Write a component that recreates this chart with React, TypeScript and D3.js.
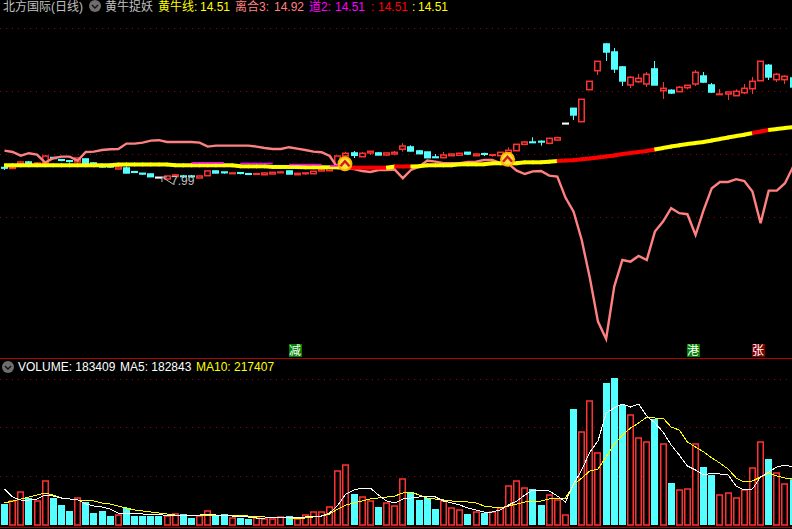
import { scaleBand, scaleLinear, line as d3line } from 'd3';

// daily candles, price in yuan
const opens = [
  9.31, 9.19, 9.75, 10.0, 9.63, 9.88, 10.56, 10.29, 10.16, 10.0, 10.38, 9.88, 9.63, 9.45, 9.13, 9.25, 8.79, 8.59, 8.5, 8.09,
  7.88, 8.19, 8.25, 8.25, 8.0, 8.29, 8.88, 8.75, 8.54, 8.66, 8.54, 8.46, 8.41, 8.5, 8.66, 8.88, 8.41, 8.54, 8.54, 8.88,
  8.91, 9.63, 10.75, 11.13, 10.66, 11.13, 11.13, 10.88, 11.0, 11.59, 11.88, 11.38, 11.25, 10.63, 10.54, 10.79, 10.84, 11.21, 10.79, 11.04,
  10.84, 10.79, 11.16, 11.41, 12.21, 12.5, 12.58, 12.34, 12.75, 14.84, 16.71, 15.04, 19.04, 21.41, 24.75, 23.75, 21.88, 19.63, 20.04, 19.75,
  21.63, 18.91, 18.96, 18.79, 19.29, 19.75, 20.75, 19.63, 18.43, 18.5, 18.29, 18.66, 19.16, 20.16, 22.09, 20.29, 20.29, 20.5,
];
const closes = [
  9.25, 9.31, 10.0, 9.75, 9.88, 10.75, 10.44, 10.21, 10.09, 10.5, 9.75, 9.75, 9.38, 9.38, 9.38, 8.63, 8.71, 8.5, 8.16, 8.09,
  8.25, 8.38, 8.18, 8.18, 8.25, 8.88, 8.63, 8.66, 8.63, 8.59, 8.46, 8.54, 8.63, 8.71, 8.75, 8.5, 8.59, 8.63, 8.84, 9.09,
  9.21, 10.75, 11.09, 10.84, 11.09, 11.34, 10.88, 11.13, 11.21, 12.0, 11.38, 11.04, 10.54, 10.55, 10.88, 11.0, 11.09, 11.0, 11.0, 10.96,
  10.91, 11.21, 11.46, 12.21, 12.5, 12.43, 12.5, 12.96, 13.04, 14.84, 15.88, 17.84, 20.09, 22.59, 23.75, 21.63, 20.13, 20.59, 20.46, 20.96,
  19.63, 19.21, 18.63, 19.34, 19.59, 21.21, 20.0, 18.75, 18.5, 18.75, 18.84, 19.21, 20.09, 22.59, 20.63, 20.96, 20.71, 19.38,
];
const highs = [
  9.41, 9.38, 10.13, 10.13, 9.94, 10.88, 10.63, 10.38, 10.25, 10.55, 10.4, 9.95, 9.7, 9.56, 9.4, 9.41, 8.85, 8.6, 8.56, 8.12,
  8.3, 8.42, 8.38, 8.38, 8.28, 8.92, 8.92, 8.78, 8.65, 8.75, 8.63, 8.63, 8.65, 8.73, 8.77, 8.9, 8.61, 8.65, 8.86, 9.11,
  9.23, 10.77, 11.3, 11.38, 11.25, 11.36, 11.25, 11.15, 11.38, 12.34, 12.09, 11.5, 11.27, 11.0, 11.25, 11.02, 11.11, 11.23, 11.02, 11.16,
  10.93, 11.23, 11.84, 12.23, 12.63, 13.09, 12.71, 12.98, 13.16, 14.86, 16.73, 17.86, 20.11, 22.61, 24.88, 24.25, 22.0, 20.75, 21.0, 21.25,
  22.63, 20.0, 19.09, 19.5, 19.61, 21.5, 21.25, 19.88, 19.13, 18.77, 19.09, 19.75, 20.63, 22.61, 22.25, 21.13, 20.84, 20.55,
];
const lows = [
  9.0, 9.13, 9.7, 9.75, 9.6, 9.75, 10.38, 10.09, 9.91, 9.95, 9.7, 9.7, 9.3, 9.25, 9.1, 8.56, 8.65, 8.38, 8.14, 8.0,
  7.85, 8.15, 8.0, 8.04, 7.98, 8.25, 8.6, 8.54, 8.52, 8.46, 8.38, 8.44, 8.4, 8.48, 8.64, 8.48, 8.39, 8.41, 8.52, 8.86,
  8.89, 9.6, 10.73, 10.5, 10.64, 10.88, 10.86, 10.75, 10.84, 11.29, 11.31, 11.0, 10.5, 10.53, 10.52, 10.77, 10.82, 10.88, 10.77, 10.75,
  10.66, 10.77, 11.14, 11.39, 12.19, 12.41, 12.04, 12.21, 12.63, 14.82, 15.25, 15.02, 19.02, 20.88, 22.63, 21.13, 19.5, 19.25, 19.88, 19.38,
  19.6, 17.88, 18.5, 18.77, 19.09, 19.5, 19.88, 18.63, 18.41, 17.75, 18.27, 18.5, 18.5, 20.14, 20.25, 20.0, 19.75, 19.3,
];

// 黄牛线
const bullLine = [
  9.59, 9.59, 9.59, 9.59, 9.59, 9.59, 9.59, 9.59, 9.59, 9.59, 9.59, 9.59, 9.59, 9.59, 9.69, 9.69, 9.69, 9.69, 9.69, 9.69,
  9.69, 9.59, 9.59, 9.59, 9.59, 9.59, 9.59, 9.59, 9.59, 9.46, 9.46, 9.46, 9.46, 9.38, 9.38, 9.38, 9.38, 9.34, 9.34, 9.34,
  9.34, 9.34, 9.29, 9.29, 9.29, 9.29, 9.29, 9.29, 9.44, 9.44, 9.44, 9.46, 9.59, 9.59, 9.59, 9.59, 9.71, 9.71, 9.71, 9.71,
  9.84, 9.84, 9.84, 9.84, 9.96, 9.96, 9.96, 10.04, 10.13, 10.19, 10.21, 10.34, 10.44, 10.56, 10.69, 10.81, 11.0, 11.13, 11.25, 11.38,
  11.56, 11.75, 11.94, 12.09, 12.25, 12.38, 12.5, 12.69, 12.88, 13.06, 13.25, 13.41, 13.63, 13.81, 14.0, 14.13, 14.25, 14.38,
];
const bullRedRanges = [[42, 47], [48, 50], [68, 80], [92, 94]];
const dao2Ranges = [[23, 27, 9.84], [29, 33, 9.75], [35, 39, 9.63], [40, 42, 9.46]];

// 离合3
const liheLine = [
  94.7, 94, 92.2, 93.4, 92.7, 88.7, 90.9, 91.7, 91.7, 89.7, 94, 94.2, 95, 95.4, 95.5, 98.2, 98.2, 98.7, 99.7, 99.9,
  99, 99, 99, 99, 98.7, 96.7, 97.2, 97.2, 97.2, 97.2, 97.2, 96.7, 96, 95.5, 95.5, 96.4, 95.7, 95, 94.2, 93.9,
  92, 86, 86, 85.5, 84.5, 84, 85, 85, 85.2, 80.9, 85, 86.7, 89.7, 89.2, 88.4, 88.4, 88.4, 89, 89.2, 90,
  90, 88.4, 88, 84.7, 83, 84.3, 84.5, 82.2, 81.7, 71.2, 64.2, 50, 31, 9.2, 0.5, 26.7, 40, 39.2, 42, 40,
  54.2, 59.2, 65.9, 63.4, 62.9, 52.5, 65, 75.9, 79, 79, 80.4, 79.5, 74.2, 58.4, 74.7, 74.7, 78.4, 86.7,
];
const liheTicks = [156, 124.5, 93, 61.5];

// volume, thousands
const volumes = [
  84, 96, 132, 108, 96, 176, 108, 80, 56, 108, 92, 48, 56, 36, 40, 68, 36, 36, 36, 36,
  36, 44, 44, 28, 36, 56, 40, 44, 28, 28, 24, 28, 24, 24, 32, 36, 24, 40, 52, 52,
  72, 216, 240, 124, 112, 96, 72, 88, 76, 184, 128, 100, 108, 64, 96, 68, 60, 44, 52, 48,
  52, 68, 156, 176, 148, 144, 80, 120, 100, 40, 464, 372, 496, 288, 568, 588, 480, 440, 348, 332,
  424, 324, 168, 140, 144, 324, 232, 200, 120, 128, 108, 140, 228, 332, 264, 208, 164, 183.4,
];
const ma5 = [
  144, 112, 100, 100, 104, 120, 116, 108, 104, 100, 84, 76, 72, 64, 48, 48, 48, 44, 44, 44,
  36, 40, 40, 40, 40, 44, 40, 40, 36, 36, 32, 28, 28, 32, 32, 32, 32, 32, 36, 36,
  48, 80, 124, 140, 148, 148, 120, 96, 88, 104, 108, 112, 116, 112, 96, 88, 80, 68, 60, 52,
  52, 60, 80, 96, 120, 140, 140, 136, 116, 92, 164, 220, 292, 336, 448, 468, 484, 472, 484, 436,
  408, 372, 320, 280, 236, 220, 200, 208, 204, 200, 156, 140, 144, 192, 212, 232, 240, 232,
];
const ma10 = [
  88, 96, 104, 112, 120, 128, 120, 108, 104, 100, 100, 96, 88, 84, 76, 68, 60, 56, 52, 48,
  44, 40, 40, 40, 40, 40, 40, 40, 40, 40, 36, 36, 32, 32, 32, 28, 28, 28, 32, 36,
  44, 64, 80, 88, 96, 104, 108, 112, 116, 128, 132, 120, 108, 104, 100, 96, 96, 92, 88, 76,
  72, 68, 76, 84, 92, 96, 96, 104, 108, 108, 160, 188, 216, 224, 272, 324, 360, 388, 408, 432,
  428, 428, 392, 380, 332, 312, 292, 268, 248, 224, 188, 172, 176, 192, 208, 196, 188, 184,
];
const volumeTicks = [196, 392, 584];

const badgeDays = [42, 62];
const lowDay = 19;
const lowLabel = '7.99';
const tags = [
  { day: 35, text: '减', fill: '#008000' },
  { day: 84, text: '港', fill: '#008000' },
  { day: 92, text: '张', fill: '#800000' },
];

const titleItems = [
  { x: 3, text: '北方国际(日线)', fill: '#c0c0c0' },
  { x: 105, text: '黄牛捉妖', fill: '#c0c0c0' },
  { x: 158, text: '黄牛线:', fill: '#ffff00' },
  { x: 200, text: '14.51', fill: '#ffff00' },
  { x: 235, text: '离合3:', fill: '#ff8080' },
  { x: 274, text: '14.92', fill: '#ff8080' },
  { x: 309, text: '道2:', fill: '#ff00ff' },
  { x: 335, text: '14.51', fill: '#ff00ff' },
  { x: 371, text: ':', fill: '#ff0000' },
  { x: 378, text: '14.51', fill: '#ff0000' },
  { x: 412, text: ':', fill: '#ffff00' },
  { x: 418, text: '14.51', fill: '#ffff00' },
];
const volumeItems = [
  { x: 18, text: 'VOLUME: 183409', fill: '#ffffff' },
  { x: 120, text: 'MA5: 182843', fill: '#ffffff' },
  { x: 196, text: 'MA10: 217407', fill: '#ffff00' },
];

const RED = '#ff3232';
const CYAN = '#54ffff';
const PINK = '#ff8080';
const FONT = '"Liberation Sans", "Noto Sans CJK SC", sans-serif';

const width = 792;
const height = 529;
const days = opens.map((_, i) => i);

const xBand = scaleBand<number>()
  .domain(days)
  .range([0.43, 0.43 + 8.13 * days.length])
  .paddingInner(0.14)
  .paddingOuter(0.07);
const xLeft = (d: number) => Math.round(xBand(d) as number);
const xMid = (d: number) => (xBand(d) as number) + xBand.bandwidth() / 2;

const priceY = scaleLinear().domain([8, 30]).range([178, 2]);
const liheY = scaleLinear().domain([0, 100]).range([340, 140]);
const volumeY = scaleLinear().domain([0, 588]).range([525, 378]);

const linePath = (values: number[], y: (v: number) => number) =>
  d3line<number>()
    .x((_, i) => xMid(i))
    .y((v) => y(v))(values) as string;

function candleColor(d: number) {
  if (closes[d] === opens[d]) return '#ffffff';
  return closes[d] > opens[d] ? RED : CYAN;
}

// a doji's volume bar takes its colour from the previous close
function volumeUp(d: number) {
  if (closes[d] === opens[d]) return closes[d] >= closes[d - 1];
  return closes[d] > opens[d];
}

const inRed = (d: number) => bullRedRanges.some(([a, b]) => d >= a && d < b);

function Chevron({ cx, cy }: { cx: number; cy: number }) {
  return (
    <g>
      <circle cx={cx} cy={cy} r={7.5} fill="#ffb400" />
      <circle cx={cx} cy={cy} r={5.5} fill="#ffe040" />
      <path
        d={`M${cx - 4.5},${cy + 2.5}L${cx},${cy - 2.5}L${cx + 4.5},${cy + 2.5}`}
        fill="none"
        stroke="#d01818"
        strokeWidth={2.4}
      />
    </g>
  );
}

function Knob({ cx, cy }: { cx: number; cy: number }) {
  return (
    <g>
      <circle cx={cx} cy={cy} r={6} fill="#6e6e6e" />
      <path d={`M${cx - 3},${cy - 1}L${cx},${cy + 2}L${cx + 3},${cy - 1}`} fill="none" stroke="#101010" strokeWidth={1.4} />
    </g>
  );
}

export default function App() {
  const lowX = xMid(lowDay);
  const lowY = priceY(lows[lowDay]);
  return (
    <svg
      width={width}
      height={height}
      style={{ position: 'absolute', left: 0, top: 0, display: 'block', background: '#000' }}
      fontFamily={FONT}
      fontSize={12}
    >
      <rect width={width} height={height} fill="#000" />

      {/* grid */}
      {liheTicks.map((t) => (
        <line key={t} x1={0} x2={width} y1={Math.round(liheY(t)) + 0.5} y2={Math.round(liheY(t)) + 0.5} stroke="#a00000" strokeDasharray="1 5" />
      ))}
      {volumeTicks.map((t) => (
        <line key={t} x1={0} x2={width} y1={Math.round(volumeY(t)) + 0.5} y2={Math.round(volumeY(t)) + 0.5} stroke="#a00000" strokeDasharray="1 5" />
      ))}

      {/* candles */}
      {days.map((d) => {
        const c = candleColor(d);
        const mid = xLeft(d) + 3.5;
        const top = priceY(Math.max(opens[d], closes[d]));
        const bottom = priceY(Math.min(opens[d], closes[d]));
        const up = closes[d] > opens[d];
        return (
          <g key={d}>
            <line x1={mid} x2={mid} y1={priceY(highs[d])} y2={priceY(lows[d])} stroke={c} strokeWidth={1} />
            <rect
              x={xLeft(d) + 0.75}
              y={top}
              width={5.5}
              height={Math.max(bottom - top, 0.6)}
              fill={up ? '#000' : c}
              stroke={c}
              strokeWidth={1.5}
            />
          </g>
        );
      })}

      {/* low marker */}
      <path d={`M${lowX + 14},${lowY + 6}L${lowX + 3},${lowY - 1}M${lowX + 3},${lowY - 1}h5M${lowX + 3},${lowY - 1}v5`} fill="none" stroke="#c0c0c0" strokeWidth={1} />
      <text x={171} y={185} fill="#c0c0c0">{lowLabel}</text>

      {/* 离合3 */}
      <path d={linePath(liheLine, liheY)} fill="none" stroke={PINK} strokeWidth={2.4} />

      {/* 黄牛线 */}
      {days.slice(0, -1).map((d) => (
        <line
          key={d}
          x1={xMid(d) - 0.5}
          x2={xMid(d + 1) + 0.5}
          y1={priceY(bullLine[d])}
          y2={priceY(bullLine[d + 1])}
          stroke={inRed(d) ? '#ff0000' : '#ffff00'}
          strokeWidth={4}
        />
      ))}
      {dao2Ranges.map(([a, b, v]) => (
        <line key={a} x1={xMid(a)} x2={xMid(b)} y1={priceY(v) - 0.5} y2={priceY(v) - 0.5} stroke="#ff00ff" strokeWidth={1.6} />
      ))}

      {badgeDays.map((d) => (
        <Chevron key={d} cx={xMid(d) - 1} cy={priceY(bullLine[d]) - 4} />
      ))}

      {/* tags */}
      {tags.map((t) => (
        <g key={t.text}>
          <rect x={Math.round(xMid(t.day) + 6 - 6.5)} y={344} width={13} height={13} fill={t.fill} />
          <text x={Math.round(xMid(t.day) + 6)} y={355} textAnchor="middle" fill="#fff" fontSize={12}>{t.text}</text>
        </g>
      ))}

      {/* title rows */}
      <Knob cx={95} cy={6} />
      {titleItems.map((t) => (
        <text key={t.x} x={t.x} y={11} fill={t.fill}>{t.text}</text>
      ))}

      <line x1={0} x2={width} y1={358.5} y2={358.5} stroke="#b40000" />
      <Knob cx={8} cy={367} />
      {volumeItems.map((t) => (
        <text key={t.x} x={t.x} y={371} fill={t.fill}>{t.text}</text>
      ))}

      {/* volume */}
      {days.map((d) => {
        const h = volumeY(0) - volumeY(volumes[d]);
        return volumeUp(d) ? (
          <rect key={d} x={xLeft(d) + 0.75} y={volumeY(volumes[d])} width={5.5} height={h} fill="#000" stroke={RED} strokeWidth={1.5} />
        ) : (
          <rect key={d} x={xLeft(d)} y={volumeY(volumes[d])} width={7} height={h} fill={CYAN} />
        );
      })}
      <path d={linePath(ma10, volumeY)} fill="none" stroke="#ffff00" strokeWidth={1} shapeRendering="crispEdges" />
      <path d={linePath(ma5, volumeY)} fill="none" stroke="#ffffff" strokeWidth={1} shapeRendering="crispEdges" />
      <line x1={0} x2={width} y1={527.5} y2={527.5} stroke="#a00000" />
    </svg>
  );
}
